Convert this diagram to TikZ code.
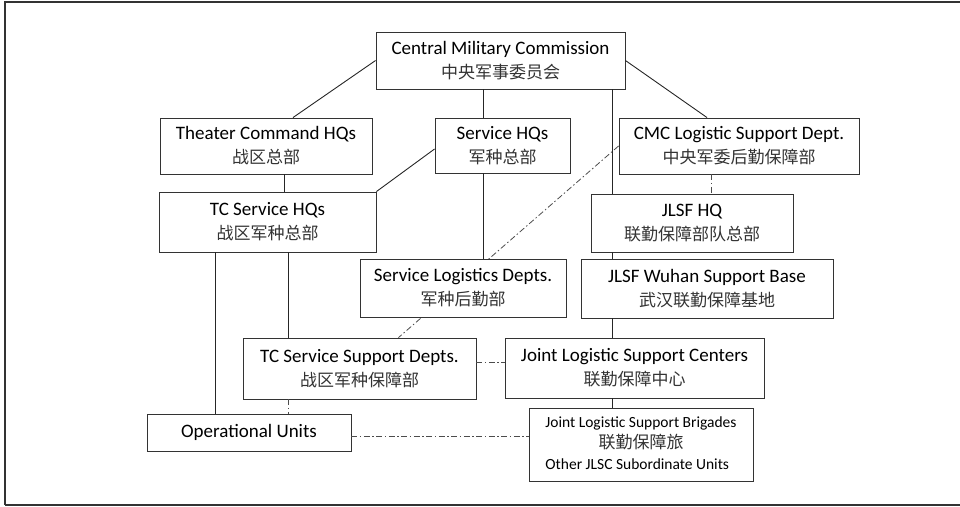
\documentclass[tikz,border=0pt]{standalone}
\usepackage{fontspec}
\setmainfont{Carlito}
\newfontfamily\cjk{Noto Sans CJK SC}
\newcommand\zh[1]{{\cjk\fontsize{17}{24}\selectfont\color{black!80}#1}}

\begin{document}
\begin{tikzpicture}[x=1pt, y=-1pt,
    box/.style={draw=black!80, line width=0.9pt, fill=white, inner sep=0pt, align=center,
                font=\fontsize{19}{24}\selectfont},
    liaison/.style={black!70, line width=0.8pt, dash pattern=on 6pt off 2.5pt on 1.5pt off 2.5pt},
    every edge/.append style={black!85, line width=0.9pt}]
    \useasboundingbox (0,0) rectangle (960,506);
    %
    \draw[black!80, line width=2.2pt] (960,2) -- (5,2) -- (5,505);
    \draw[black!80, line width=1.2pt] (5,505) -- (960,505);
    %
    \node [box, minimum width=249pt, minimum height=57pt] (cmc) at (500.5,60.5) {Central Military Commission\\\zh{中央军事委员会}};
    \node [box, minimum width=212pt, minimum height=56pt] (tc) at (266,146) {Theater Command HQs\\\zh{战区总部}};
    \node [box, minimum width=135pt, minimum height=55pt] (svc) at (502.5,145.5) {Service HQs\\\zh{军种总部}};
    \node [box, minimum width=240pt, minimum height=56pt] (lsd) at (739,146) {CMC Logistic Support Dept.\\\zh{中央军委后勤保障部}};
    \node [box, minimum width=217pt, minimum height=60pt] (tcs) at (267.5,222) {TC Service HQs\\\zh{战区军种总部}};
    \node [box, minimum width=202pt, minimum height=58pt] (hq) at (692,223) {JLSF HQ\\\zh{联勤保障部队总部}};
    \node [box, minimum width=252pt, minimum height=59pt] (wuh) at (707,288.5) {JLSF Wuhan Support Base\\\zh{武汉联勤保障基地}};
    \node [box, minimum width=233pt, minimum height=61pt] (tcsd) at (359.5,368.5) {TC Service Support Depts.\\\zh{战区军种保障部}};
    \node [box, minimum width=259pt, minimum height=60pt] (jlsc) at (634.5,368) {Joint Logistic Support Centers\\\zh{联勤保障中心}};
    \node [box, minimum width=204pt, minimum height=37pt] (ops) at (249,432.5) {Operational Units};
    \node [box, minimum width=224pt, minimum height=73pt, font=\fontsize{15.5}{21}\selectfont] (brig) at (641,444.5)
          {\begin{tabular}{@{}l@{}}Joint Logistic Support Brigades\\\multicolumn{1}{@{}c@{}}{\zh{联勤保障旅}}\\Other JLSC Subordinate Units\end{tabular}};
    %
    \path (lsd.west) edge[liaison] ([xshift=39pt]tcsd.north);
    \node [box, minimum width=206pt, minimum height=58pt] (sld) at (463,288) {Service Logistics Depts.\\\zh{军种后勤部}};
    %
    \coordinate (x1) at ([xshift=-17.5pt]cmc.south);
    \coordinate (x2) at ([xshift=111.5pt]cmc.south);
    \coordinate (x3) at ([xshift=-28pt]lsd.south);
    \coordinate (x4) at ([xshift=-52.5pt]tcs.south);
    \coordinate (x5) at ([xshift=20.5pt]tcs.south);
    \coordinate (y1) at ([yshift=6.5pt]tcsd.east);
    %
    \path (cmc.west) edge ([xshift=27pt]tc.north);
    \path (x1) edge (x1 |- svc.north);
    \path (x1 |- svc.south) edge (x1 |- sld.north);
    \path (cmc.east) edge ([xshift=-32pt]lsd.north);
    \path (x2) edge (x2 |- hq.north);
    \path (x2 |- hq.south) edge (x2 |- wuh.north);
    \path (x2 |- wuh.south) edge (x2 |- jlsc.north);
    \path (x2 |- jlsc.south) edge (x2 |- brig.north);
    \path (x3) edge[liaison] (x3 |- hq.north);
    \path ([xshift=18pt]tc.south) edge ([xshift=16.5pt]tcs.north);
    \path ([yshift=-3.5pt]svc.west) edge (tcs.north east);
    \path (x4) edge (x4 |- ops.north);
    \path (x5) edge (x5 |- tcsd.north);
    \path (x5 |- tcsd.south) edge[liaison] (x5 |- ops.north);
    \path (y1) edge[liaison] (y1 -| jlsc.west);
    \path ([yshift=-3.5pt]ops.east) edge[liaison] ([yshift=-3.5pt]ops.east -| brig.west);
\end{tikzpicture}
\end{document}
